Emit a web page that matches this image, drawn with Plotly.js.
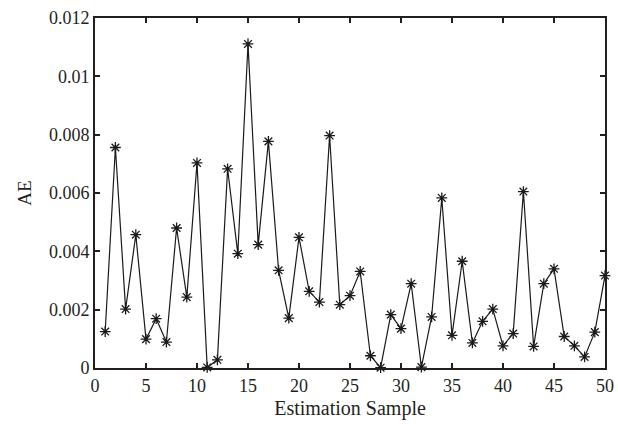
<!DOCTYPE html>
<html>
<head>
<meta charset="utf-8">
<script src="https://cdn.plot.ly/plotly-3.0.1.min.js"></script>
<style>html,body{margin:0;padding:0;background:#fff}#chart{width:618px;height:427px}</style>
</head>
<body>
<div id="chart"></div>
<script>
const samples = Array.from({length: 50}, (_, i) => i + 1);
const aeValues = [
  0.00125, 0.00756, 0.00202, 0.00457, 0.00099, 0.00169, 0.00089, 0.00480, 0.00243, 0.00703,
  0.00002, 0.00028, 0.00683, 0.00392, 0.01111, 0.00423, 0.00777, 0.00335, 0.00171, 0.00448,
  0.00263, 0.00226, 0.00797, 0.00217, 0.00248, 0.00331, 0.00042, 0.00001, 0.00183, 0.00135,
  0.00289, 0.00003, 0.00175, 0.00583, 0.00112, 0.00366, 0.00086, 0.00160, 0.00202, 0.00076,
  0.00118, 0.00605, 0.00074, 0.00289, 0.00340, 0.00108, 0.00076, 0.00038, 0.00123, 0.00317
];
const yTickVals = [0, 0.002, 0.004, 0.006, 0.008, 0.01, 0.012];
const yTickText = ['0', '0.002', '0.004', '0.006', '0.008', '0.01', '0.012'];
const xTickVals = [0, 5, 10, 15, 20, 25, 30, 35, 40, 45, 50];

const trace = {
  x: samples, y: aeValues, type: 'scatter', mode: 'lines+markers',
  line: {color: '#1a1a1a', width: 1.2},
  marker: {symbol: 'asterisk-open', size: 9, color: '#1a1a1a', line: {color: '#1a1a1a', width: 1.3}},
  cliponaxis: false, showlegend: false
};
const fontFam = '"Liberation Serif", "DejaVu Serif", serif';
const layout = {
  width: 618, height: 427,
  margin: {l: 95, r: 13, t: 18, b: 59},
  paper_bgcolor: '#fff', plot_bgcolor: '#fff',
  font: {family: fontFam, size: 18, color: '#231f20'},
  xaxis: {
    range: [0, 50], tickvals: xTickVals, ticktext: xTickVals.map(String),
    ticks: 'inside', ticklen: 5, tickwidth: 2, tickcolor: '#231f20',
    showline: true, linecolor: '#231f20', linewidth: 2, mirror: 'ticks',
    showgrid: false, zeroline: false,
    title: {text: 'Estimation Sample', font: {family: fontFam, size: 20}, standoff: 6},
    tickfont: {family: fontFam, size: 18}
  },
  yaxis: {
    range: [0, 0.012], tickvals: yTickVals, ticktext: yTickText,
    ticks: 'inside', ticklen: 5, tickwidth: 2, tickcolor: '#231f20',
    showline: true, linecolor: '#231f20', linewidth: 2, mirror: 'ticks',
    showgrid: false, zeroline: false,
    title: {text: 'AE', font: {family: fontFam, size: 19}, standoff: 12},
    tickfont: {family: fontFam, size: 18}
  }
};
Plotly.newPlot('chart', [trace], layout, {displayModeBar: false, staticPlot: true});
</script>
</body>
</html>
